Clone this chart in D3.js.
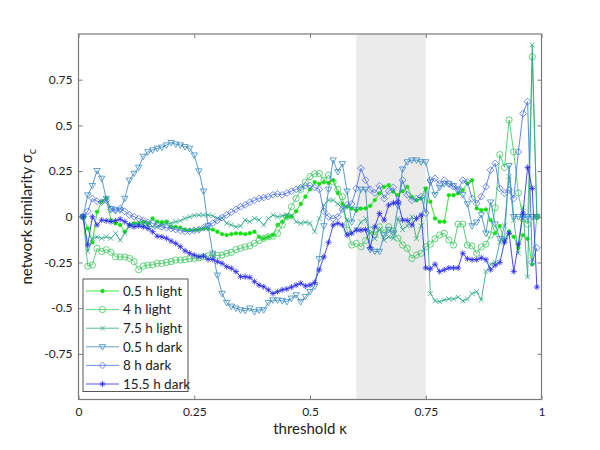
<!DOCTYPE html>
<html><head><meta charset="utf-8">
<script src="https://cdn.jsdelivr.net/npm/d3@7"></script>
<style>
body{margin:0;background:#fff}
svg{display:block}
text{font-family:Lato,"Open Sans",sans-serif}
</style>
</head><body>
<svg id="c" width="600" height="450"></svg>
<script>
// ---------- data ----------
const kappa = [
 0.01,0.02,0.03,0.04,0.05,0.06,0.07,0.08,0.09,0.10,
 0.11,0.12,0.13,0.14,0.15,0.16,0.17,0.18,0.19,0.20,
 0.21,0.22,0.23,0.24,0.25,0.26,0.27,0.28,0.29,0.30,
 0.31,0.32,0.33,0.34,0.35,0.36,0.37,0.38,0.39,0.40,
 0.41,0.42,0.43,0.44,0.45,0.46,0.47,0.48,0.49,0.50,
 0.51,0.52,0.53,0.54,0.55,0.56,0.57,0.58,0.59,0.60,
 0.61,0.62,0.63,0.64,0.65,0.66,0.67,0.68,0.69,0.70,
 0.71,0.72,0.73,0.74,0.75,0.76,0.77,0.78,0.79,0.80,
 0.81,0.82,0.83,0.84,0.85,0.86,0.87,0.88,0.89,0.90,
 0.91,0.92,0.93,0.94,0.95,0.96,0.97,0.98,0.99];

const light05 = [
 0,-0.064,-0.14,0.027,0.082,0.10,-0.018,-0.036,-0.045,-0.082,
 -0.045,-0.036,-0.036,-0.027,-0.036,-0.009,-0.027,-0.03,-0.027,-0.055,
 -0.055,-0.06,-0.07,-0.073,-0.073,-0.07,-0.064,-0.066,-0.07,-0.082,
 -0.095,-0.10,-0.095,-0.091,-0.091,-0.095,-0.09,-0.082,-0.11,-0.118,
 -0.11,-0.10,-0.045,-0.027,0.0,0.0,0.03,0.07,0.11,0.15,
 0.19,0.18,0.19,0.185,0.20,0.13,0.07,0.055,0.045,0.036,
 0.045,0.046,0.06,0.091,0.128,0.164,0.173,0.137,0.118,0.14,
 0.164,0.109,0.09,0.10,0.155,0.082,-0.009,-0.027,-0.027,0.118,
 0.118,0.128,0.146,0.183,0.20,0.046,0.036,0.04,-0.018,-0.09,
 -0.05,-0.13,-0.08,-0.11,-0.17,-0.10,-0.12,-0.26,0.0];

const light4 = [
 0,-0.27,-0.264,-0.173,-0.19,-0.18,-0.194,-0.219,-0.22,-0.22,
 -0.228,-0.246,-0.29,-0.27,-0.264,-0.264,-0.255,-0.255,-0.25,-0.245,
 -0.237,-0.237,-0.235,-0.23,-0.228,-0.225,-0.219,-0.215,-0.21,-0.212,
 -0.21,-0.20,-0.195,-0.18,-0.172,-0.165,-0.16,-0.145,-0.13,-0.118,
 -0.11,-0.106,-0.091,-0.045,0.0,0.055,0.10,0.15,0.19,0.22,
 0.235,0.237,0.20,0.228,0.19,0.15,0.11,-0.073,-0.155,-0.146,
 -0.164,-0.13,-0.073,-0.10,-0.055,-0.09,-0.055,-0.08,-0.118,-0.155,
 -0.173,-0.228,-0.21,-0.20,-0.164,-0.15,-0.12,-0.10,-0.09,-0.128,
 -0.155,-0.04,-0.04,-0.155,-0.16,-0.20,-0.165,-0.15,-0.10,0.05,
 0.34,0.27,0.53,0.355,0.13,-0.01,-0.04,0.875,0.0];

const light75 = [
 0,-0.19,-0.12,-0.11,-0.118,-0.11,-0.118,-0.091,-0.128,-0.09,
 -0.05,-0.04,-0.042,-0.045,-0.05,-0.055,-0.055,-0.045,-0.036,-0.036,
 -0.027,-0.022,-0.009,0.0,0.007,0.009,0.009,0.009,0.005,-0.009,
 -0.005,-0.036,-0.045,-0.055,-0.05,-0.018,-0.027,-0.009,-0.018,-0.045,
 -0.01,0.009,0.0,0.005,0.009,0.009,-0.027,-0.036,-0.03,-0.036,
 -0.082,-0.01,0.064,0.091,0.09,0.07,0.046,-0.018,-0.09,-0.07,
 -0.03,-0.01,-0.09,-0.12,-0.07,-0.128,-0.11,-0.118,-0.009,-0.07,
 -0.05,0.0,-0.12,-0.05,0.15,-0.42,-0.46,-0.465,-0.455,-0.45,
 -0.45,-0.44,-0.46,-0.45,-0.42,-0.41,-0.455,-0.30,-0.26,-0.25,
 -0.14,-0.05,0.22,-0.02,-0.2,0.05,-0.33,0.94,0.0];

const dark05 = [
 0,0.119,0.17,0.252,0.21,0.10,0.045,0.036,0.036,0.10,
 0.20,0.237,0.27,0.33,0.355,0.365,0.374,0.38,0.392,0.405,
 0.397,0.392,0.383,0.374,0.337,0.25,0.14,-0.05,-0.20,-0.32,
 -0.42,-0.47,-0.49,-0.50,-0.51,-0.514,-0.50,-0.52,-0.51,-0.51,
 -0.47,-0.456,-0.456,-0.46,-0.465,-0.446,-0.428,-0.465,-0.437,-0.41,
 -0.38,-0.23,-0.05,0.15,0.31,0.246,0.29,0.14,-0.03,0.04,
 0.15,0.15,-0.18,-0.19,-0.19,-0.10,-0.07,-0.09,0.06,0.26,
 0.30,0.31,0.31,0.30,0.30,0.19,0.12,0.16,0.18,0.18,
 0.17,0.15,0.12,0.07,-0.05,-0.03,0.01,-0.09,0.08,-0.04,
 -0.12,-0.13,0.28,0,0,0,0,0,0];

const dark8 = [
 0,0.03,0.10,0.085,0.08,0.09,0.04,0.035,0.045,0.03,
 0.01,0.0,-0.01,-0.02,-0.03,-0.035,-0.045,-0.055,-0.06,-0.064,
 -0.07,-0.075,-0.08,-0.08,-0.075,-0.07,-0.06,-0.05,-0.035,-0.02,
 -0.005,0.01,0.025,0.04,0.055,0.065,0.08,0.09,0.10,0.105,
 0.11,0.12,0.125,0.12,0.13,0.14,0.15,0.16,0.17,0.17,
 0.16,0.15,0.03,0.0,-0.01,0.0,0.04,0.065,0.07,0.155,
 0.265,0.20,0.15,0.13,0.17,0.10,0.14,0.16,0.08,0.20,
 0.12,0.09,0.10,0.11,0.02,0.20,0.21,0.18,0.20,0.18,
 0.164,0.146,0.20,0.19,0.10,0.073,0.11,0.164,0.255,0.292,
 0.155,0.128,0.146,0.10,0.355,0.565,0.63,-0.25,-0.17];

const dark155 = [
 0,-0.155,0.0,-0.045,-0.018,-0.022,-0.027,-0.022,-0.013,-0.027,
 -0.045,-0.055,-0.05,-0.055,-0.064,-0.082,-0.106,-0.11,-0.118,-0.133,
 -0.146,-0.164,-0.186,-0.20,-0.21,-0.219,-0.215,-0.233,-0.233,-0.246,
 -0.255,-0.273,-0.282,-0.30,-0.328,-0.328,-0.332,-0.355,-0.374,-0.383,
 -0.40,-0.42,-0.41,-0.40,-0.395,-0.385,-0.374,-0.364,-0.379,-0.374,
 -0.36,-0.29,-0.22,-0.14,-0.045,-0.036,-0.045,-0.10,-0.09,-0.073,
 -0.073,-0.07,-0.17,-0.055,0.018,-0.018,0.064,0.075,0.08,-0.018,
 -0.02,-0.045,-0.009,0.009,-0.28,-0.285,-0.26,-0.30,-0.29,-0.28,
 -0.28,-0.28,-0.20,-0.23,-0.235,-0.235,-0.225,-0.235,-0.29,-0.265,
 -0.25,-0.14,-0.09,-0.30,-0.15,0.02,0.27,0.155,-0.385];

const seriesNames = ["0.5 h light","4 h light","7.5 h light","0.5 h dark","8 h dark","15.5 h dark"];
const seriesValues = [light05, light4, light75, dark05, dark8, dark155];
const xTicks = [0, 0.25, 0.5, 0.75, 1];
const xTickLabels = ["0","0.25","0.5","0.75","1"];
const yTicks = [-0.75,-0.5,-0.25,0,0.25,0.5,0.75];
const yTickLabels = ["-0.75","-0.5","-0.25","0","0.25","0.5","0.75"];
const shadedBand = [0.6, 0.75];

// ---------- styles ----------
const colors = ["#10e010","#3cc860","#2aa886","#3a8cc4","#4a6ee8","#2a2af0"];
const markers = ["dot","circle","cross","tri","diamond","star"];

const svg = d3.select("#c");
const L = 78.5, R = 541.5, T = 34, B = 399.5;
const x = d3.scaleLinear().domain([0,1]).range([L,R]);
const y = d3.scaleLinear().domain([-1,1]).range([B,T]);

function markerPath(type){
  switch(type){
    case "cross": return "M-2.4,-2.4L2.4,2.4M-2.4,2.4L2.4,-2.4";
    case "tri": return "M-3.2,-2.2L3.2,-2.2L0,3.3Z";
    case "diamond": return "M0,-3.4L3.4,0L0,3.4L-3.4,0Z";
    case "star": return "M-3,0L3,0M0,-3L0,3M-2.1,-2.1L2.1,2.1M-2.1,2.1L2.1,-2.1";
  }
  return null;
}
function drawMarker(g, type, color){
  if(type==="dot"){
    g.append("circle").attr("r",1.9).attr("fill",color).attr("stroke",color).attr("stroke-width",0.4);
  } else if(type==="circle"){
    g.append("circle").attr("r",3.1).attr("fill","none").attr("stroke",color).attr("stroke-width",0.8);
  } else {
    g.append("path").attr("d",markerPath(type)).attr("fill","none").attr("stroke",color).attr("stroke-width",0.8);
  }
}

// shaded band
svg.append("rect")
  .attr("x", x(shadedBand[0])).attr("y", T)
  .attr("width", x(shadedBand[1]) - x(shadedBand[0])).attr("height", B - T)
  .attr("fill", "#ebebeb");

// series
const line = d3.line().x((d,i)=>x(kappa[i])).y(d=>y(d));
seriesValues.forEach((vals, s)=>{
  const g = svg.append("g");
  g.append("path").attr("d", line(vals)).attr("fill","none")
    .attr("stroke", colors[s]).attr("stroke-width",0.85);
  vals.forEach((v,i)=>{
    const m = g.append("g").attr("transform",`translate(${x(kappa[i])},${y(v)})`);
    drawMarker(m, markers[s], colors[s]);
  });
});

// axes
const axisColor = "#7a7a7a";
const gx = svg.append("g").attr("transform",`translate(0,${B})`)
  .call(d3.axisBottom(x).tickValues(xTicks).tickFormat((d,i)=>xTickLabels[i])
    .tickSizeInner(-4).tickSizeOuter(0).tickPadding(8));
const gy = svg.append("g").attr("transform",`translate(${L},0)`)
  .call(d3.axisLeft(y).tickValues(yTicks).tickFormat((d,i)=>yTickLabels[i])
    .tickSizeInner(-4).tickSizeOuter(0).tickPadding(6));
const gt = svg.append("g").attr("transform",`translate(0,${T})`)
  .call(d3.axisTop(x).tickValues(xTicks).tickFormat("").tickSizeInner(-4).tickSizeOuter(0));
const gr = svg.append("g").attr("transform",`translate(${R},0)`)
  .call(d3.axisRight(y).tickValues(yTicks).tickFormat("").tickSizeInner(-4).tickSizeOuter(0));
[gx,gy,gt,gr].forEach(g=>{
  g.select(".domain").remove();
  g.selectAll(".tick line").attr("stroke",axisColor);
  g.selectAll("text").attr("fill","#222").style("font-size","12px").style("font-family","Lato,'Open Sans',sans-serif");
});
svg.append("rect").attr("x",L).attr("y",T).attr("width",R-L).attr("height",B-T)
  .attr("fill","none").attr("stroke",axisColor).attr("stroke-width",1.2);

// axis labels
svg.append("text").attr("x",(L+R)/2).attr("y",434).attr("text-anchor","middle")
  .attr("fill","#222").style("font-size","15px").text("threshold \u03BA");
const yl = svg.append("text").attr("transform",`translate(32,${(T+B)/2}) rotate(-90)`)
  .attr("text-anchor","middle").attr("fill","#222").style("font-size","15px");
yl.append("tspan").text("network similarity \u03C3");
yl.append("tspan").attr("dy",4).style("font-size","11px").text("c");

// legend
const lg = svg.append("g");
lg.append("rect").attr("x",83).attr("y",279).attr("width",105).attr("height",112.5)
  .attr("fill","#fff").attr("stroke","#555").attr("stroke-width",1);
seriesNames.forEach((name,s)=>{
  const cy = 291 + s*18.6;
  lg.append("line").attr("x1",86).attr("x2",119).attr("y1",cy).attr("y2",cy)
    .attr("stroke",colors[s]).attr("stroke-width",0.8);
  drawMarker(lg.append("g").attr("transform",`translate(102.5,${cy})`), markers[s], colors[s]);
  lg.append("text").attr("x",123).attr("y",cy).attr("dy","0.35em")
    .attr("fill","#222").style("font-size","13.5px").text(name);
});
</script>
</body></html>
